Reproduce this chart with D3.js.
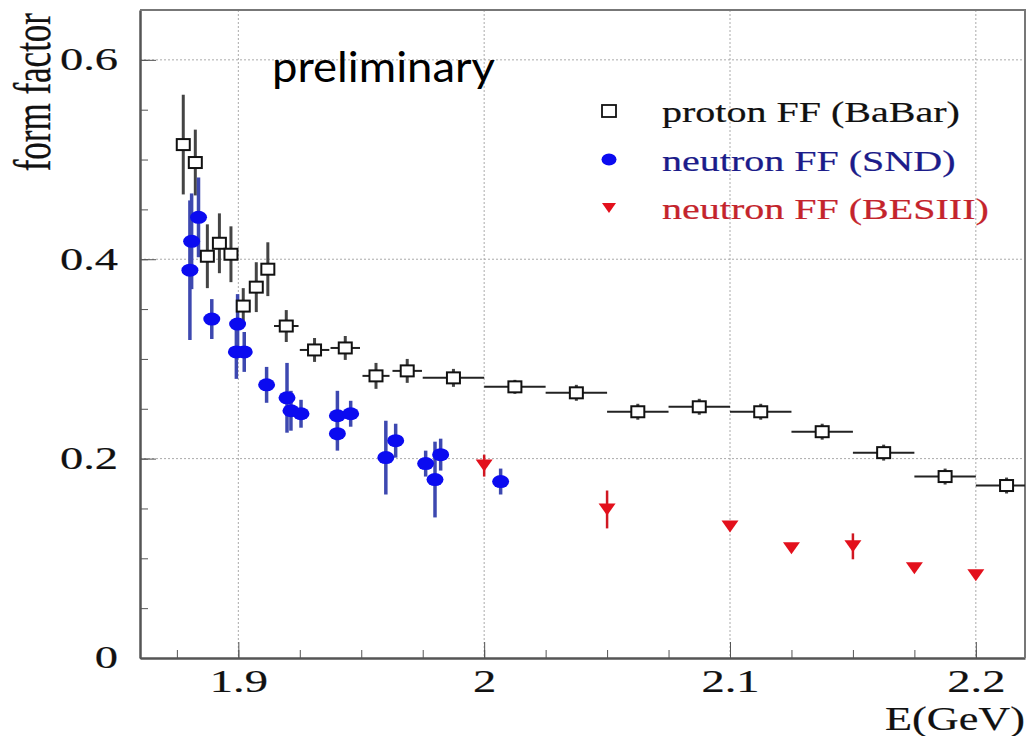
<!DOCTYPE html>
<html>
<head>
<meta charset="utf-8">
<script src="https://cdn.jsdelivr.net/npm/d3@7"></script>
<style>
  body { margin: 0; background: #fff; }
  svg { display: block; }
  .serif { font-family: "Liberation Serif", "DejaVu Serif", serif; stroke-width: 0.2px; }
</style>
</head>
<body>
<svg width="1027" height="736"></svg>
<script>
// proton FF (BaBar): energy, value, half bin width, error
const babarE   = [1.8776, 1.8825, 1.8874, 1.8923, 1.8970, 1.9020, 1.9073, 1.9120, 1.9195, 1.9310, 1.9435, 1.9560,
                  1.9687, 1.9875, 2.0125, 2.0375, 2.0625, 2.0875, 2.1125, 2.1375, 2.1625, 2.1875, 2.2125];
const babarFF  = [0.515, 0.497, 0.403, 0.416, 0.405, 0.353, 0.372, 0.390, 0.333, 0.309, 0.311, 0.283,
                  0.288, 0.281, 0.272, 0.266, 0.247, 0.252, 0.247, 0.227, 0.206, 0.182, 0.173];
const babarDE  = [0, 0, 0, 0, 0, 0, 0, 0, 0.005, 0.006, 0.006, 0.0055,
                  0.006, 0.0125, 0.0125, 0.0125, 0.0125, 0.0125, 0.0125, 0.0125, 0.0125, 0.0125, 0.0125];
const babarErr = [0.050, 0.033, 0.032, 0.030, 0.028, 0.018, 0.025, 0.027, 0.016, 0.012, 0.012, 0.013,
                  0.012, 0.009, 0.007, 0.008, 0.008, 0.008, 0.008, 0.008, 0.008, 0.008, 0.008];

// neutron FF (SND)
const sndE   = [1.8803, 1.8810, 1.8838, 1.8892, 1.8997, 1.8992, 1.9024, 1.9115, 1.9198, 1.9214,
                1.9255, 1.9403, 1.9403, 1.9457, 1.9600, 1.9640, 1.9762, 1.9800, 1.9823, 2.0067];
const sndFF  = [0.389, 0.418, 0.442, 0.340, 0.335, 0.307, 0.307, 0.274, 0.261, 0.248,
                0.245, 0.243, 0.225, 0.245, 0.201, 0.218, 0.195, 0.179, 0.204, 0.177];
const sndErr = [0.070, 0.048, 0.040, 0.020, 0.030, 0.027, 0.020, 0.018, 0.035, 0.020,
                0.014, 0.025, 0.017, 0.013, 0.037, 0.017, 0.013, 0.038, 0.016, 0.013];

// neutron FF (BESIII)
const besE   = [2.000, 2.050, 2.100, 2.125, 2.150, 2.175, 2.200];
const besFF  = [0.193, 0.149, 0.132, 0.110, 0.112, 0.090, 0.083];
const besErr = [0.011, 0.019, 0, 0, 0.013, 0, 0];

const xTicks = [1.9, 2, 2.1, 2.2];
const xTickLabels = ["1.9", "2", "2.1", "2.2"];
const yTicks = [0, 0.2, 0.4, 0.6];
const yTickLabels = ["0", "0.2", "0.4", "0.6"];
const legendLabels = ["proton FF (BaBar)", "neutron FF (SND)", "neutron FF (BESIII)"];
const legendColors = ["#111", "#1c1c8a", "#c4242c"];

const svg = d3.select("svg");
const pLeft = 140, pRight = 1025, pTop = 10, pBottom = 658;

const x = d3.scaleLinear().domain([1.86, 2.22]).range([pLeft, pRight]);
const y = d3.scaleLinear().domain([0, 0.65]).range([pBottom, pTop]);

// widen text horizontally, like the stretched original
function stretch(k) {
    return function() {
        const w = this.getComputedTextLength();
        d3.select(this).attr("textLength", w * k).attr("lengthAdjust", "spacingAndGlyphs");
    };
}

svg.append("defs").append("clipPath").attr("id", "plot")
    .append("rect").attr("x", pLeft).attr("y", pTop)
    .attr("width", pRight - pLeft).attr("height", pBottom - pTop);

// dotted grid
const grid = svg.append("g").attr("stroke", "#aaa").attr("stroke-dasharray", "2,2");
grid.selectAll("line.v").data(xTicks).enter().append("line")
    .attr("x1", d => x(d)).attr("x2", d => x(d))
    .attr("y1", pTop).attr("y2", pBottom);
grid.selectAll("line.h").data(yTicks.filter(d => d > 0)).enter().append("line")
    .attr("x1", pLeft).attr("x2", pRight)
    .attr("y1", d => y(d)).attr("y2", d => y(d));

// axes, ticks pointing inward
const yMinor = d3.range(0, 0.65, 0.05);
const xMinor = d3.range(1.875, 2.22, 0.025);

svg.append("g").attr("transform", `translate(${pLeft},0)`)
    .call(d3.axisLeft(y).tickValues(yMinor).tickSize(-8).tickSizeOuter(0).tickFormat(""))
    .call(g => g.select(".domain").remove())
    .call(g => g.selectAll("line").attr("stroke", "#555"));
svg.append("g").attr("transform", `translate(0,${pBottom})`)
    .call(d3.axisBottom(x).tickValues(xMinor).tickSize(-8).tickSizeOuter(0).tickFormat(""))
    .call(g => g.select(".domain").remove())
    .call(g => g.selectAll("line").attr("stroke", "#555"));

const yAxis = svg.append("g").attr("transform", `translate(${pLeft},0)`)
    .call(d3.axisLeft(y).tickValues(yTicks).tickSize(-16).tickSizeOuter(0).tickPadding(22)
        .tickFormat((d, i) => yTickLabels[i]));
yAxis.selectAll("line").attr("stroke", "#555");
yAxis.select(".domain").attr("stroke", "#555").attr("stroke-width", 2.5);
yAxis.selectAll("text").attr("class", "serif").attr("font-size", 31)
    .attr("fill", "#111").attr("stroke", "#111")
    .each(stretch(1.5));

const xAxis = svg.append("g").attr("transform", `translate(0,${pBottom})`)
    .call(d3.axisBottom(x).tickValues(xTicks).tickSize(-16).tickSizeOuter(0).tickPadding(12)
        .tickFormat((d, i) => xTickLabels[i]));
xAxis.selectAll("line").attr("stroke", "#555");
xAxis.select(".domain").attr("stroke", "#555").attr("stroke-width", 2.5);
xAxis.selectAll("text").attr("class", "serif").attr("font-size", 31)
    .attr("fill", "#111").attr("stroke", "#111")
    .each(stretch(1.5));

// top and right frame
svg.append("path")
    .attr("d", `M${pLeft},${pTop}H${pRight}V${pBottom}`)
    .attr("fill", "none").attr("stroke", "#777").attr("stroke-width", 2);

const plot = svg.append("g").attr("clip-path", "url(#plot)");

// BaBar
const babar = babarE.map((e, i) => ({ e, v: babarFF[i], de: babarDE[i], err: babarErr[i] }));
plot.append("g").attr("stroke", "#444").attr("stroke-width", 3)
    .selectAll("line").data(babar).enter().append("line")
    .attr("x1", d => x(d.e)).attr("x2", d => x(d.e))
    .attr("y1", d => y(d.v - d.err)).attr("y2", d => y(d.v + d.err));
plot.append("g").attr("stroke", "#222").attr("stroke-width", 2)
    .selectAll("line").data(babar.filter(d => d.de > 0)).enter().append("line")
    .attr("x1", d => x(d.e - d.de)).attr("x2", d => x(d.e + d.de))
    .attr("y1", d => y(d.v)).attr("y2", d => y(d.v));

// SND
const snd = sndE.map((e, i) => ({ e, v: sndFF[i], err: sndErr[i] }));
plot.append("g").attr("stroke", "#3d48b0").attr("stroke-width", 3.5)
    .selectAll("line").data(snd).enter().append("line")
    .attr("x1", d => x(d.e)).attr("x2", d => x(d.e))
    .attr("y1", d => y(d.v - d.err)).attr("y2", d => y(d.v + d.err));

// BESIII
const bes = besE.map((e, i) => ({ e, v: besFF[i], err: besErr[i] }));
plot.append("g").attr("stroke", "#d01822").attr("stroke-width", 2.5)
    .selectAll("line").data(bes.filter(d => d.err > 0)).enter().append("line")
    .attr("x1", d => x(d.e)).attr("x2", d => x(d.e))
    .attr("y1", d => y(d.v - d.err)).attr("y2", d => y(d.v + d.err));

const tri = "M-8.5,-6L8.5,-6L0,6Z";

plot.append("g").selectAll("rect").data(babar).enter().append("rect")
    .attr("x", d => x(d.e) - 6.5).attr("y", d => y(d.v) - 5.5)
    .attr("width", 13).attr("height", 11)
    .attr("fill", "#fff").attr("stroke", "#111").attr("stroke-width", 2);

plot.append("g").selectAll("ellipse").data(snd).enter().append("ellipse")
    .attr("cx", d => x(d.e)).attr("cy", d => y(d.v))
    .attr("rx", 8.5).attr("ry", 6.5)
    .attr("fill", "#0b0bf0");

plot.append("g").selectAll("path").data(bes).enter().append("path")
    .attr("d", tri)
    .attr("transform", d => `translate(${x(d.e)},${y(d.v)})`)
    .attr("fill", "#e3101c");

// legend
const legend = svg.append("g").selectAll("g").data(legendLabels).enter().append("g")
    .attr("transform", (d, i) => `translate(609,${111 + i * 48.5})`);
legend.filter((d, i) => i === 0).append("rect")
    .attr("x", -7).attr("y", -6).attr("width", 14).attr("height", 12)
    .attr("fill", "#fff").attr("stroke", "#111").attr("stroke-width", 1.8);
legend.filter((d, i) => i === 1).append("ellipse")
    .attr("rx", 7.5).attr("ry", 6).attr("fill", "#0b0bf0");
legend.filter((d, i) => i === 2).append("path")
    .attr("d", "M-7,-5L7,-5L0,5Z").attr("fill", "#e3101c");
legend.append("text")
    .attr("class", "serif")
    .attr("x", 53).attr("y", 11)
    .attr("font-size", 29)
    .attr("fill", (d, i) => legendColors[i])
    .attr("stroke", (d, i) => legendColors[i])
    .text(d => d)
    .each(stretch(1.38));

// titles
svg.append("text")
    .attr("class", "serif")
    .attr("transform", "translate(50,13) rotate(-90) scale(1,1.5)")
    .attr("text-anchor", "end")
    .attr("font-size", 35)
    .attr("fill", "#111").attr("stroke", "#111")
    .text("form factor");

svg.append("text")
    .attr("class", "serif")
    .attr("x", 1025).attr("y", 730)
    .attr("text-anchor", "end")
    .attr("font-size", 34)
    .attr("fill", "#111").attr("stroke", "#111")
    .text("E(GeV)")
    .each(stretch(1.3));

svg.append("text")
    .attr("x", 272).attr("y", 82)
    .attr("font-family", "Lato, 'Open Sans', sans-serif")
    .attr("font-size", 42)
    .attr("fill", "#000")
    .attr("textLength", 223).attr("lengthAdjust", "spacingAndGlyphs")
    .text("preliminary");
</script>
</body>
</html>
